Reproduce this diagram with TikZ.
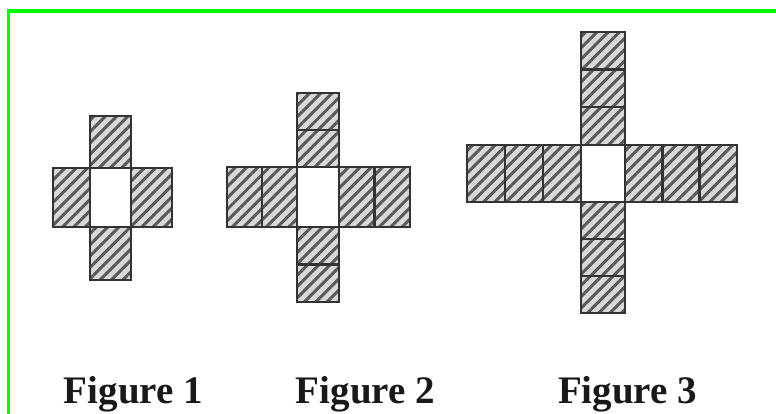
\documentclass[tikz,border=0pt]{standalone}
\usepackage{fontspec}
\setmainfont{Liberation Serif}
\usetikzlibrary{patterns.meta}
\definecolor{framegreen}{RGB}{0,255,0}

\begin{document}
\begin{tikzpicture}[x=1pt, y=-1pt,
    cell/.style={preaction={fill=gray!30},
                 pattern={Lines[angle=45, distance=8pt, line width=3pt]},
                 pattern color=black!65, draw=black!80, line width=2.4pt},
    hole/.style={draw=black!80, line width=2.4pt, fill=white},
    caption/.style={font=\fontsize{39}{42}\selectfont\bfseries,
                    text=black!90, anchor=base, inner sep=0pt}
  ]
  \useasboundingbox (0,0) rectangle (776,414);

  % green frame, top and left
  \draw[framegreen, line width=3.5pt] (8.5,414) -- (8.5,11) -- (776,11);

  % Figure 1
  \path[cell] (90,116) rectangle (131,168);
  \path[cell] (90,227) rectangle (131,280);
  \path[cell] (53,168) rectangle (90,227);
  \path[cell] (131,168) rectangle (172,227);
  \path[hole] (90,168) rectangle (131,227);

  % Figure 2
  \foreach \y in {93,130} \path[cell] (297,\y) rectangle ++(42,37);
  \foreach \y in {227,264.5} \path[cell] (297,\y) rectangle ++(42,37.5);
  \foreach \x in {227,262} \path[cell] (\x,167) rectangle ++(35,60);
  \foreach \x in {339,374.5} \path[cell] (\x,167) rectangle ++(35.5,60);
  \path[hole] (297,167) rectangle (339,227);

  % Figure 3
  \foreach \y in {32,69.7,107.3} \path[cell] (581,\y) rectangle ++(44,37.7);
  \foreach \y in {202,239,276} \path[cell] (581,\y) rectangle ++(44,37);
  \foreach \x in {467,505,543} \path[cell] (\x,145) rectangle ++(38,57);
  \foreach \x in {625,662.3,699.7} \path[cell] (\x,145) rectangle ++(37.3,57);
  \path[hole] (581,145) rectangle (625,202);

  % captions
  \node[caption] (fig1) at (133.5,403) {Figure 1};
  \node[caption] (fig2) at (365.5,403) {Figure 2};
  \node[caption] (fig3) at (627.5,403) {Figure 3};
\end{tikzpicture}
\end{document}
